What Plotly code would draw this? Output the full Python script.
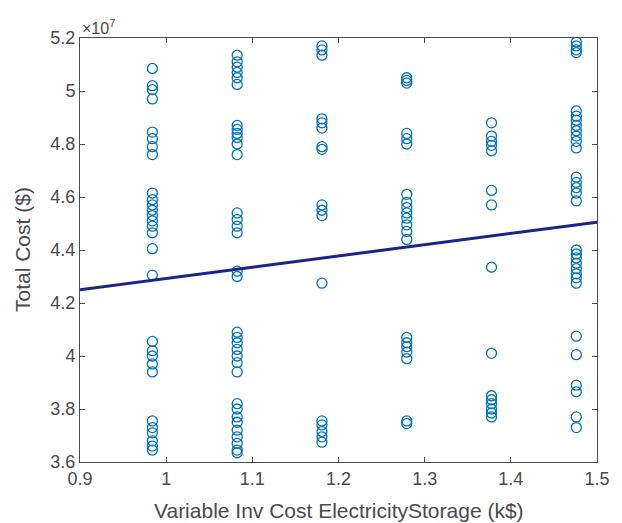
import plotly.graph_objects as go

# Storage unit investment cost levels (k$) and resulting total system cost (x 1e7 $)
cost_levels = [0.984, 1.0824, 1.1808, 1.2792, 1.3776, 1.476]

total_cost_1 = [5.085, 5.02, 5.005, 4.97, 4.845, 4.82, 4.79, 4.76, 4.615, 4.59, 4.57, 4.55,
                4.53, 4.51, 4.49, 4.465, 4.405, 4.305, 4.055, 4.02, 4.00, 3.97, 3.94, 3.755,
                3.73, 3.71, 3.68, 3.66, 3.645]
total_cost_2 = [5.135, 5.11, 5.09, 5.07, 5.05, 5.025, 4.87, 4.855, 4.84, 4.825, 4.80, 4.76,
                4.54, 4.515, 4.49, 4.465, 4.32, 4.30, 4.09, 4.07, 4.05, 4.025, 4.00, 3.975,
                3.94, 3.82, 3.80, 3.77, 3.75, 3.72, 3.695, 3.67, 3.645, 3.635]
total_cost_3 = [5.17, 5.155, 5.135, 4.895, 4.88, 4.86, 4.79, 4.78, 4.57, 4.55, 4.53, 4.275,
                3.755, 3.74, 3.715, 3.695, 3.675]
total_cost_4 = [5.05, 5.04, 5.03, 4.84, 4.82, 4.80, 4.61, 4.58, 4.56, 4.54, 4.52, 4.495,
                4.47, 4.44, 4.07, 4.05, 4.035, 4.015, 3.99, 3.755, 3.745]
total_cost_5 = [4.88, 4.83, 4.81, 4.795, 4.775, 4.625, 4.57, 4.335, 4.01, 3.85, 3.835,
                3.82, 3.80, 3.785, 3.77]
total_cost_6 = [5.185, 5.17, 5.155, 5.145, 4.925, 4.905, 4.89, 4.87, 4.85, 4.83, 4.81, 4.785,
                4.675, 4.655, 4.635, 4.615, 4.585, 4.40, 4.385, 4.37, 4.35, 4.33, 4.31,
                4.295, 4.275, 4.075, 4.005, 3.89, 3.865, 3.77, 3.73]

# Least-squares trend line end points (x 1e7 $)
fit_x = [0.9, 1.5]
fit_y = [4.25, 4.505]

cost_scale = 1e7
y_ticks = [3.6, 3.8, 4.0, 4.2, 4.4, 4.6, 4.8, 5.0, 5.2]
y_tick_text = ["3.6", "3.8", "4", "4.2", "4.4", "4.6", "4.8", "5", "5.2"]
x_ticks = [0.9, 1.0, 1.1, 1.2, 1.3, 1.4, 1.5]
x_tick_text = ["0.9", "1", "1.1", "1.2", "1.3", "1.4", "1.5"]

groups = [total_cost_1, total_cost_2, total_cost_3, total_cost_4, total_cost_5, total_cost_6]
xs, ys = [], []
for level, costs in zip(cost_levels, groups):
    xs += [level] * len(costs)
    ys += [c * cost_scale for c in costs]

fig = go.Figure()
fig.add_trace(go.Scatter(
    x=xs, y=ys, mode="markers",
    marker=dict(symbol="circle-open", size=10, color="#0072BD", line=dict(width=1.3)),
    showlegend=False,
))
fig.add_trace(go.Scatter(
    x=fit_x, y=[v * cost_scale for v in fit_y], mode="lines",
    line=dict(color="#1b2586", width=3), showlegend=False,
))

axis_color = "#4a4a4a"
font_family = "Liberation Sans, Arial, sans-serif"
fig.update_layout(
    width=622, height=523,
    margin=dict(l=80, r=17, t=38, b=61),
    paper_bgcolor="white", plot_bgcolor="white",
    font=dict(family=font_family, size=18, color=axis_color),
    xaxis=dict(
        range=[0.9, 1.5], tickvals=x_ticks, ticktext=x_tick_text,
        ticks="inside", ticklen=5, tickcolor=axis_color, mirror="ticks",
        showline=True, linecolor=axis_color, linewidth=1, showgrid=False, zeroline=False,
        tickfont=dict(size=18),
    ),
    yaxis=dict(
        range=[3.6 * cost_scale, 5.2 * cost_scale],
        tickvals=[v * cost_scale for v in y_ticks], ticktext=y_tick_text,
        ticks="inside", ticklen=5, tickcolor=axis_color, mirror="ticks",
        showline=True, linecolor=axis_color, linewidth=1, showgrid=False, zeroline=False,
        tickfont=dict(size=18),
    ),
    annotations=[
        dict(text="×10<sup>7</sup>", xref="paper", yref="paper", x=0, y=1,
             xanchor="left", yanchor="bottom", yshift=-1, showarrow=False,
             font=dict(size=16, color=axis_color)),
        dict(text="Variable Inv Cost ElectricityStorage (k$)", xref="paper", yref="paper",
             x=0.5, y=0, xanchor="center", yanchor="middle", yshift=-48, showarrow=False,
             font=dict(size=21, color=axis_color)),
        dict(text="Total Cost ($)", xref="paper", yref="paper", textangle=-90,
             x=0, y=0.5, xanchor="center", yanchor="middle", xshift=-58, showarrow=False,
             font=dict(size=21, color=axis_color)),
    ],
)

fig.write_html("out.html")
